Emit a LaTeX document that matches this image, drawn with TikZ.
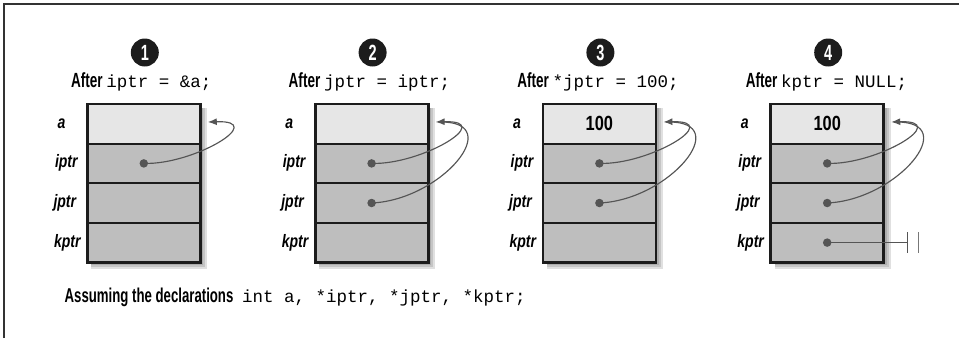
\documentclass[tikz,border=0pt]{standalone}
\usepackage{fontspec}
\setmainfont{Liberation Sans}
\setmonofont{Liberation Mono}
\newfontfamily\condfont[FakeStretch=0.66]{Liberation Sans}
\newfontfamily\labelfont[FakeStretch=0.78]{Liberation Sans}
\newfontfamily\valfont[FakeStretch=0.8]{Liberation Sans}
\usetikzlibrary{arrows.meta,calc}
\definecolor{frameline}{HTML}{333333}
\definecolor{boxline}{HTML}{1C1C1C}
\definecolor{lightcell}{HTML}{E6E6E6}
\definecolor{darkcell}{HTML}{BEBEBE}
\definecolor{ptrgray}{HTML}{555555}
\definecolor{nullgray}{HTML}{777777}
\newcommand\codetxt[1]{{\mdseries\upshape\ttfamily\fontsize{17.5}{20}\selectfont #1}}
\tikzset{
  cell/.style={draw=boxline, line width=2pt, minimum width=113pt, minimum height=39.6pt, inner sep=0pt, outer sep=0pt},
  lab/.style={font=\labelfont\bfseries\itshape\fontsize{18}{20}\selectfont, anchor=west, inner sep=0pt, text height=13pt, text depth=4pt},
  numcirc/.style={circle, fill=boxline, minimum size=28pt, inner sep=0pt, text=white, font=\condfont\bfseries\fontsize{22}{22}\selectfont},
  caption/.style={anchor=base, inner sep=0pt, font=\condfont\bfseries\fontsize{20.5}{24}\selectfont},
  valtxt/.style={inner sep=0pt, font=\valfont\bfseries\fontsize{20.5}{22}\selectfont},
  dot/.style={circle, fill=ptrgray, minimum size=8.5pt, inner sep=0pt},
  ptr/.style={draw=ptrgray, line width=1.15pt, -{Latex[length=9pt,width=7pt]}},
  ptrplain/.style={draw=ptrgray, line width=1.15pt, shorten >=5pt},
  nullline/.style={draw=ptrgray, line width=1.15pt},
}
\begin{document}
\begin{tikzpicture}[x=1pt,y=-1pt]
\useasboundingbox (0,0) rectangle (959,338);
% frame (top and left)
\coordinate (fbl) at (4,338);
\coordinate (ftl) at (4,4);
\coordinate (ftr) at (959,4);
\draw[frameline, line width=1.5pt] (fbl) -- (ftl) -- (ftr);

\foreach \bi/\cx in {1/143.8,2/371.6,3/599.4,4/827.2}{
  \foreach \s in {3,5,7}{
    \fill[black,opacity=0.12] (\cx-52.5, 108) rectangle (\cx+56.5+\s, 262.4+\s);
  }
  \node[cell, fill=lightcell] (b\bi a) at (\cx,123.8) {};
  \node[cell, fill=darkcell] (b\bi i) at (\cx,163.4) {};
  \node[cell, fill=darkcell] (b\bi j) at (\cx,203.0) {};
  \node[cell, fill=darkcell] (b\bi k) at (\cx,242.6) {};
  \draw[boxline, line width=2.8pt] (b\bi a.north west) rectangle (b\bi k.south east);
  \node[lab] (l\bi a) at (\cx-86.5,123.8) {a};
  \node[lab] (l\bi i) at (\cx-89,163.4) {iptr};
  \node[lab] (l\bi j) at (\cx-90.5,203.0) {jptr};
  \node[lab] (l\bi k) at (\cx-90,242.6) {kptr};
  \node[numcirc] (n\bi) at (\cx+1,52.5) {\bi};
}

% captions
\node[caption] (c1) at (141.3,87.5) {After \codetxt{iptr = \&a;}};
\node[caption] (c2) at (369.4,87.5) {After \codetxt{jptr = iptr;}};
\node[caption] (c3) at (598,87.5) {After \codetxt{*jptr = 100;}};
\node[caption] (c4) at (826.5,87.5) {After \codetxt{kptr = NULL;}};

% values
\node[valtxt] (v3) at (b3a.center) {100};
\node[valtxt] (v4) at (b4a.center) {100};

% box 1
\node[dot] (d1i) at (b1i.center) {};
\coordinate (t1) at ($(b1a.east)+(7.5,-1.8)$);
\draw[ptr] (d1i.center) .. controls ($(b1a.east)+(-6.5,41.2)$) and ($(b1a.east)+(68.5,-3.8)$) .. (t1);

% boxes 2-4
\foreach \bi in {2,3,4}{
  \node[dot] (d\bi i) at (b\bi i.center) {};
  \node[dot] (d\bi j) at (b\bi j.center) {};
  \coordinate (t\bi) at ($(b\bi a.east)+(7.5,-1.8)$);
  \draw[ptrplain] (d\bi j.center) .. controls ($(b\bi a.east)+(13.5,76.2)$) and ($(b\bi a.east)+(78.5,-2.2)$) .. (t\bi);
  \draw[ptr] (d\bi i.center) .. controls ($(b\bi a.east)+(-6.5,41.2)$) and ($(b\bi a.east)+(68.5,-3.8)$) .. (t\bi);
}

% NULL pointer in box 4
\node[dot] (d4k) at (b4k.center) {};
\coordinate (z4) at ($(d4k.center)+(80,0)$);
\coordinate (z4b) at ($(d4k.center)+(91,0)$);
\draw[nullline] (d4k.center) -- (z4);
\draw[nullline] ($(z4)+(0,-10.5)$) -- ($(z4)+(0,10.5)$);
\draw[nullline, draw=nullgray] ($(z4b)+(0,-10.5)$) -- ($(z4b)+(0,10.5)$);

% declarations
\node[anchor=base west, inner sep=0pt, font=\condfont\bfseries\fontsize{20}{24}\selectfont] (decl) at (64.5,302) {Assuming the declarations\hspace{5pt} \codetxt{int a, *iptr, *jptr, *kptr;}};
\end{tikzpicture}
\end{document}
